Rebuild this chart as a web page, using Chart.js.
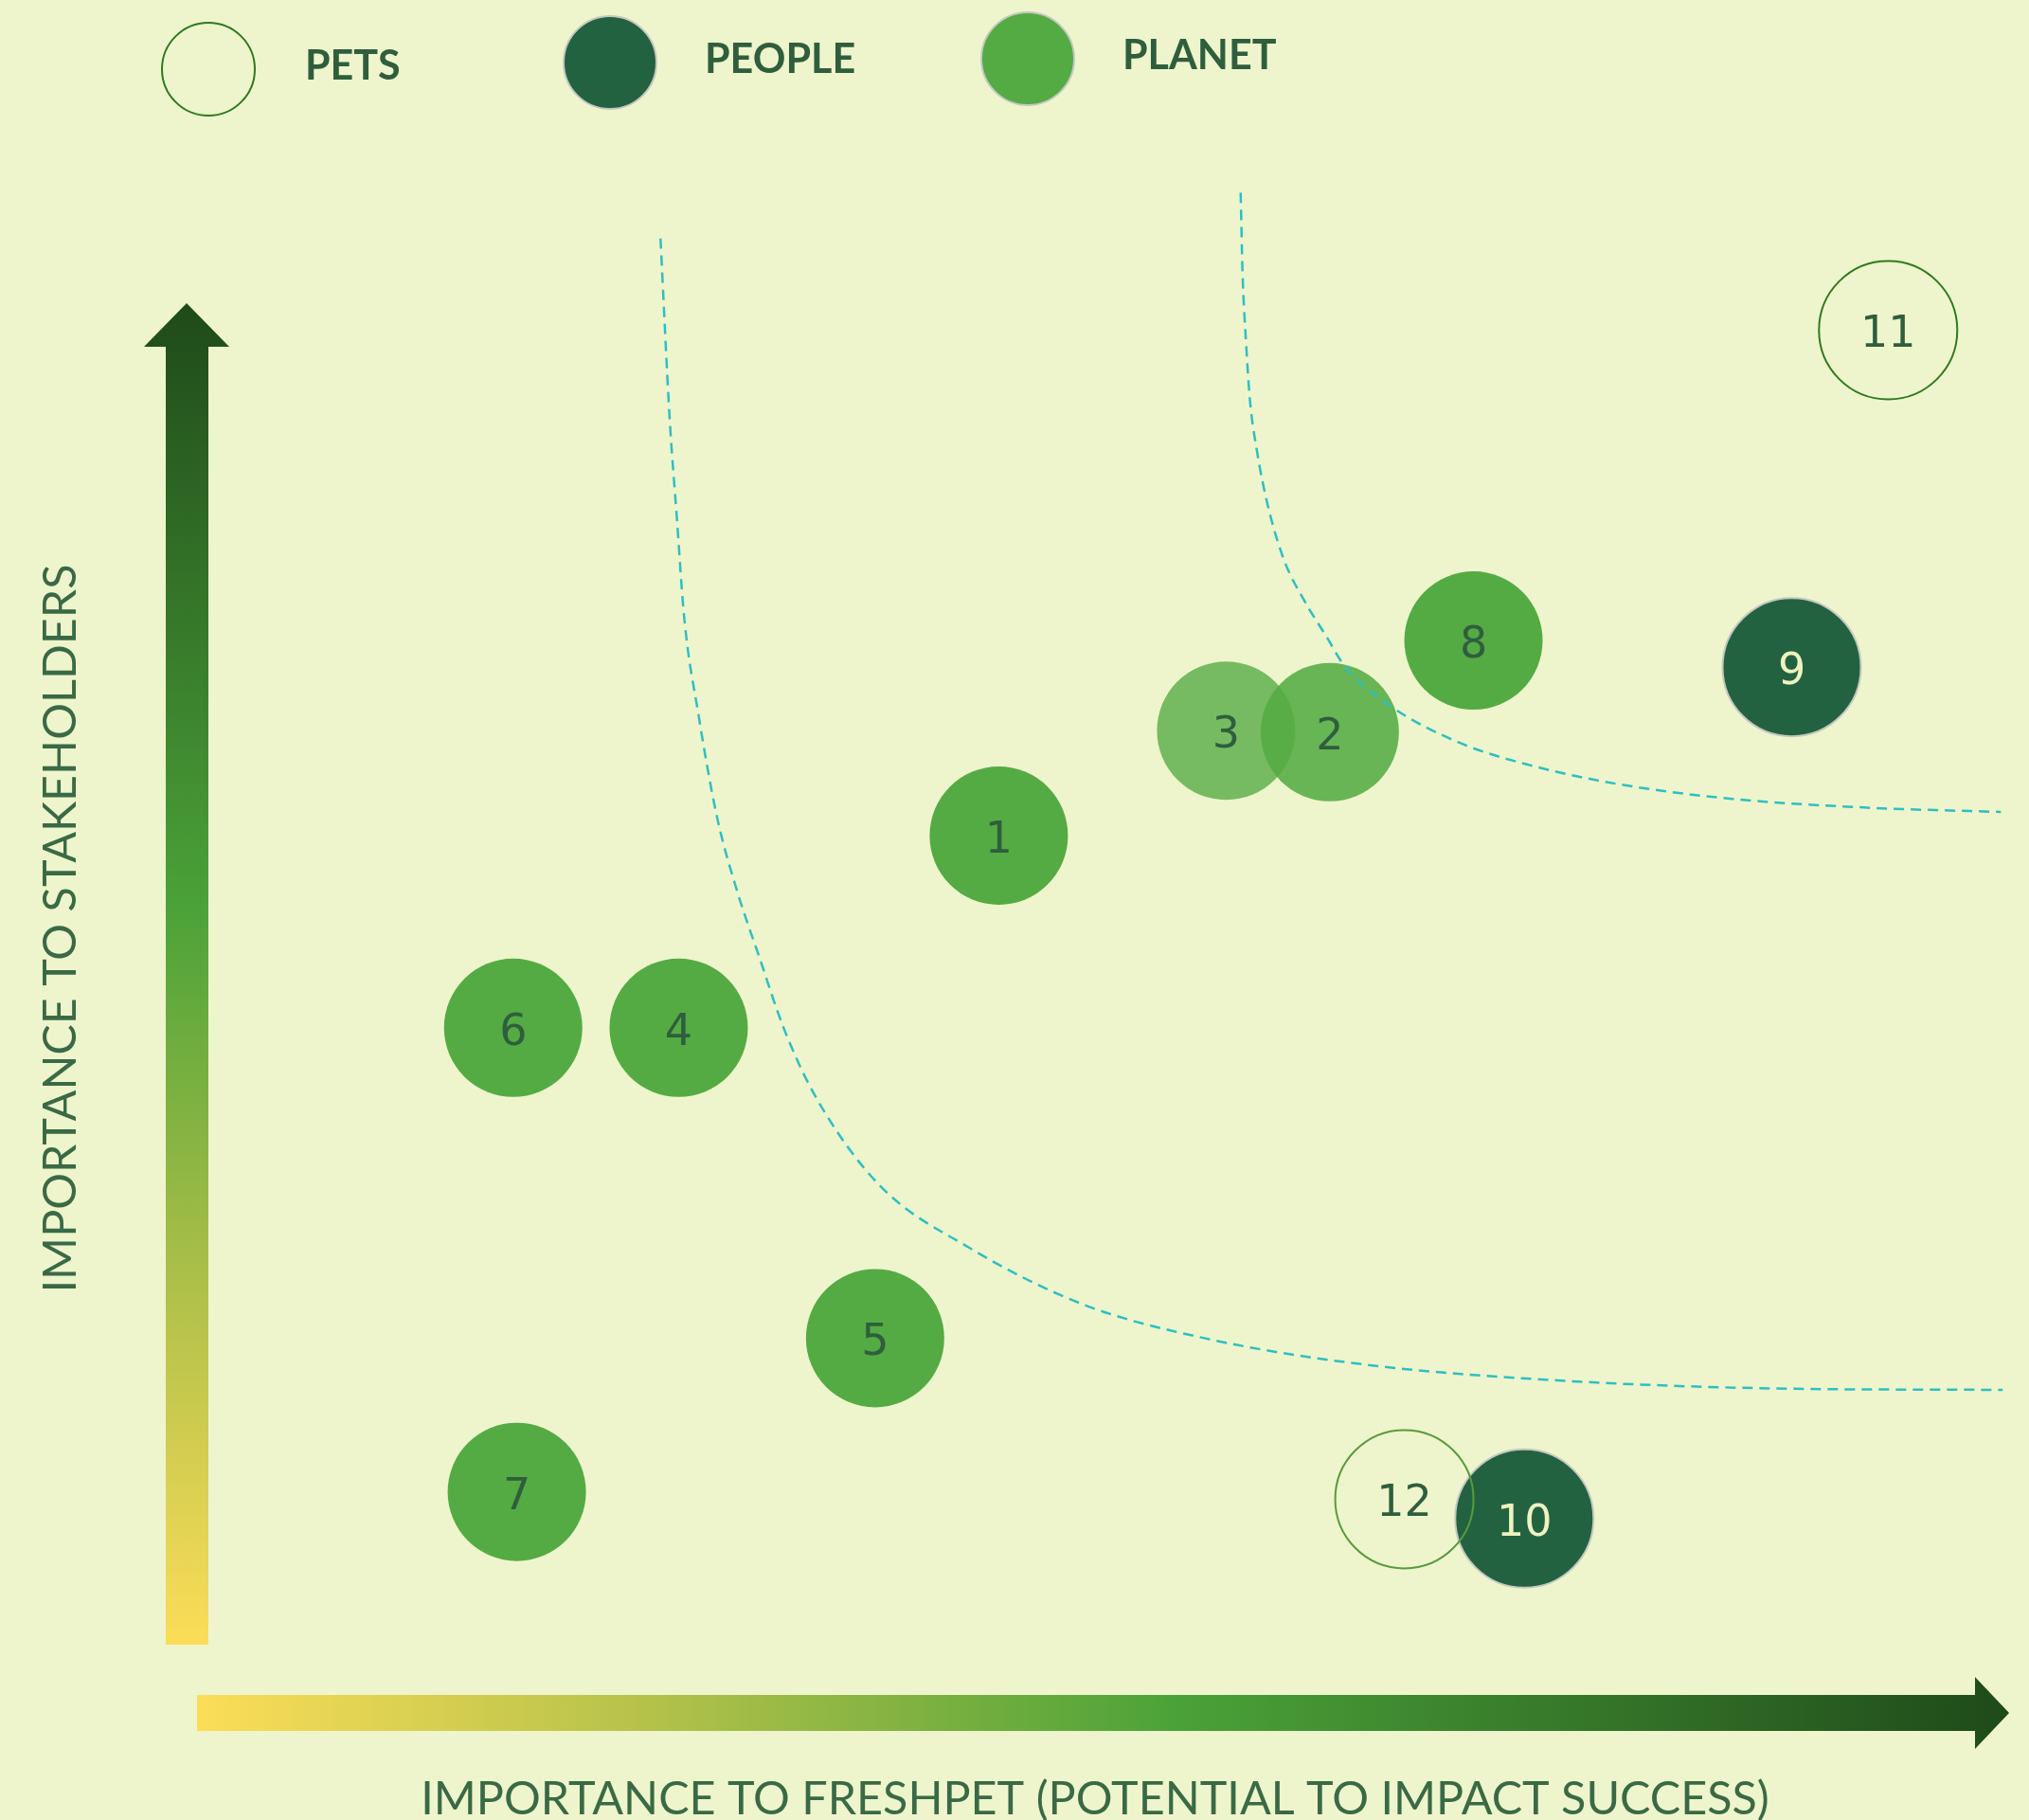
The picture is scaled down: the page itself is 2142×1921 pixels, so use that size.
<!DOCTYPE html>
<html>
<head>
<meta charset="utf-8">
<script src="https://cdn.jsdelivr.net/npm/chart.js@4.4.1/dist/chart.umd.min.js"></script>
<style>
  html, body { margin: 0; padding: 0; background: #eef5cc; overflow: hidden; }
  #wrap { width: 2142px; height: 1921px; }
</style>
</head>
<body>
<div id="wrap"><canvas id="matrix"></canvas></div>
<script>
// topics by group (x = importance to Freshpet, y = importance to stakeholders, 0-100)
const petsIds = ['11', '12'];
const petsX = [93.4, 66.8];
const petsY = [89.2, 10.1];

const peopleIds = ['9', '10'];
const peopleX = [88.1, 73.4];
const peopleY = [66.4, 8.8];

const planetIds = ['1', '2', '3', '4', '5', '6', '7', '8'];
const planetX = [44.5, 62.7, 57.0, 26.9, 37.7, 17.8, 18.0, 70.6];
const planetY = [55.0, 62.0, 62.1, 42.0, 21.0, 42.0, 10.6, 68.2];

// dashed threshold curves
const innerX = [25.9, 26.4, 26.8, 27.2, 28.0, 29.0, 30.1, 31.3, 32.7, 34.4, 37.9, 42.9, 49.1, 55.8, 64.7, 75.8, 87.0, 99.7];
const innerY = [95.4, 83.3, 76.5, 69.8, 63.1, 56.3, 51.3, 46.9, 41.9, 37.4, 31.4, 27.1, 23.3, 21.0, 19.2, 18.1, 17.6, 17.5];
const outerX = [57.8, 57.9, 58.1, 58.3, 58.7, 59.3, 60.2, 61.3, 62.5, 63.5, 66.0, 69.8, 73.6, 78.5, 84.7, 92.1, 99.6];
const outerY = [98.5, 93.2, 88.3, 84.6, 81.0, 77.3, 73.6, 70.9, 68.5, 66.5, 63.8, 61.3, 59.8, 58.5, 57.5, 56.9, 56.6];

const legendLabels = ['PETS', 'PEOPLE', 'PLANET'];
const xTitle = 'IMPORTANCE TO FRESHPET (POTENTIAL TO IMPACT SUCCESS)';
const yTitle = 'IMPORTANCE TO STAKEHOLDERS';

const BG = '#eef5cc';
const PLANET = '#54ab43';
const PEOPLE = '#236241';
const PETS_LINE = '#2f7a20';
const TEXT = '#2f5e3d';

const pts = (xs, ys) => xs.map((x, i) => ({ x: x, y: ys[i] }));

const background = {
    id: 'background',
    beforeDraw(chart) {
        const ctx = chart.ctx;
        ctx.save();
        ctx.fillStyle = BG;
        ctx.fillRect(0, 0, chart.width, chart.height);

        // vertical arrow
        let g = ctx.createLinearGradient(0, 1736, 0, 320);
        g.addColorStop(0, '#fcdd58');
        g.addColorStop(0.25, '#b4c24a');
        g.addColorStop(0.55, '#4ba238');
        g.addColorStop(1, '#1f4a1a');
        ctx.fillStyle = g;
        ctx.beginPath();
        ctx.moveTo(175, 1736);
        ctx.lineTo(175, 366);
        ctx.lineTo(152, 366);
        ctx.lineTo(197, 320);
        ctx.lineTo(242, 366);
        ctx.lineTo(220, 366);
        ctx.lineTo(220, 1736);
        ctx.closePath();
        ctx.fill();

        // horizontal arrow
        g = ctx.createLinearGradient(208, 0, 2121, 0);
        g.addColorStop(0, '#fcdd58');
        g.addColorStop(0.25, '#b4c24a');
        g.addColorStop(0.54, '#4ba238');
        g.addColorStop(1, '#1f4a1a');
        ctx.fillStyle = g;
        ctx.beginPath();
        ctx.moveTo(208, 1789);
        ctx.lineTo(2085, 1789);
        ctx.lineTo(2085, 1770);
        ctx.lineTo(2121, 1808);
        ctx.lineTo(2085, 1846);
        ctx.lineTo(2085, 1827);
        ctx.lineTo(208, 1827);
        ctx.closePath();
        ctx.fill();

        // axis titles
        ctx.fillStyle = '#3a6a45';
        ctx.font = '48.5px Lato';
        ctx.textAlign = 'center';
        ctx.textBaseline = 'alphabetic';
        ctx.fillText(xTitle, 1156, 1915);
        ctx.translate(80, 980);
        ctx.rotate(-Math.PI / 2);
        ctx.fillText(yTitle, 0, 0);
        ctx.restore();
    }
};

const labels = {
    id: 'labels',
    afterDatasetsDraw(chart) {
        const ctx = chart.ctx;
        ctx.save();
        ctx.font = '46px "DejaVu Sans"';
        ctx.textAlign = 'center';
        ctx.textBaseline = 'middle';
        chart.data.datasets.forEach((ds, i) => {
            if (!ds.ids) return;
            chart.getDatasetMeta(i).data.forEach((pt, j) => {
                ctx.fillStyle = ds.textColor;
                ctx.fillText(ds.ids[j], pt.x, pt.y + 6);
            });
        });

        // legend
        const items = [
            { x: 220, y: 73, tx: 322, ty: 70, fill: null, stroke: PETS_LINE },
            { x: 644, y: 66, tx: 744, ty: 63, fill: PEOPLE, stroke: '#c4c8c0' },
            { x: 1085, y: 62, tx: 1185, ty: 59, fill: PLANET, stroke: '#c4c8c0' }
        ];
        items.forEach((it, i) => {
            ctx.beginPath();
            ctx.arc(it.x, it.y, 49, 0, Math.PI * 2);
            if (it.fill) { ctx.fillStyle = it.fill; ctx.fill(); }
            ctx.lineWidth = 2;
            ctx.strokeStyle = it.stroke;
            ctx.stroke();
            ctx.fillStyle = TEXT;
            ctx.font = 'bold 43px Lato';
            ctx.textAlign = 'left';
            ctx.fillText(legendLabels[i], it.tx, it.ty);
        });
        ctx.restore();
    }
};

const curve = (xs, ys) => ({
    type: 'line',
    data: pts(xs, ys),
    borderColor: '#2ebfc2',
    borderWidth: 2.5,
    borderDash: [11, 7],
    pointRadius: 0,
    fill: false,
    cubicInterpolationMode: 'monotone',
    clip: false,
    order: 0
});

new Chart(document.getElementById('matrix'), {
    type: 'scatter',
    data: {
        datasets: [
            curve(innerX, innerY),
            curve(outerX, outerY),
            {
                label: 'PETS',
                ids: petsIds,
                textColor: TEXT,
                data: pts(petsX, petsY),
                pointRadius: 73,
                backgroundColor: 'rgba(0,0,0,0)',
                borderColor: [PETS_LINE, '#5a9a3c'],
                borderWidth: 2,
                clip: false,
                order: 1
            },
            {
                label: 'PEOPLE',
                ids: peopleIds,
                textColor: '#eef3bf',
                data: pts(peopleX, peopleY),
                pointRadius: 73,
                backgroundColor: PEOPLE,
                borderColor: '#c4c8c0',
                borderWidth: 2,
                clip: false,
                order: 2
            },
            {
                label: 'PLANET',
                ids: planetIds,
                textColor: TEXT,
                data: pts(planetX, planetY),
                pointRadius: 73,
                backgroundColor: [PLANET, 'rgba(84,171,67,0.87)', 'rgba(84,171,67,0.78)', PLANET, PLANET, PLANET, PLANET, PLANET],
                borderWidth: 0,
                clip: false,
                order: 3
            }
        ]
    },
    options: {
        responsive: true,
        maintainAspectRatio: false,
        animation: false,
        events: [],
        layout: { autoPadding: false, padding: { left: 200, right: 22, top: 180, bottom: 181 } },
        plugins: { legend: { display: false }, tooltip: { enabled: false } },
        scales: {
            x: { type: 'linear', min: 0, max: 100, display: false },
            y: { type: 'linear', min: 0, max: 100, display: false }
        }
    },
    plugins: [background, labels]
});
</script>
</body>
</html>
